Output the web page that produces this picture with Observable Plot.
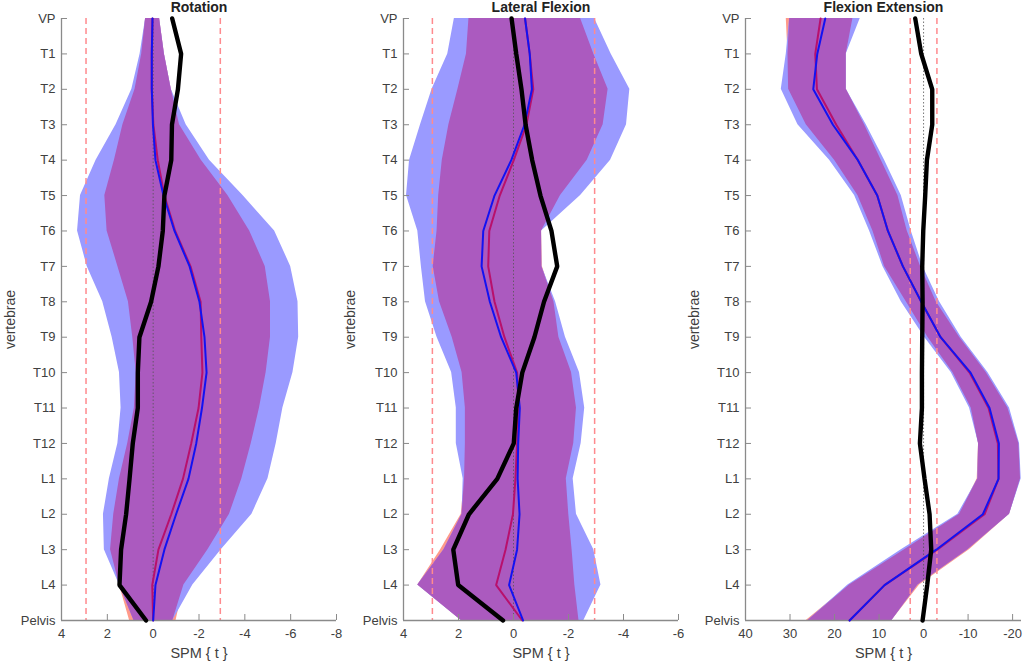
<!DOCTYPE html>
<html>
<head>
<meta charset="utf-8">
<script src="https://cdn.jsdelivr.net/npm/d3@7"></script>
<script src="https://cdn.jsdelivr.net/npm/@observablehq/plot@0.6"></script>
<style>
html,body{margin:0;padding:0;background:#fff;}
#charts{display:flex;width:1024px;height:662px;overflow:hidden;}
#charts svg{display:block;flex:none;overflow:visible;}
</style>
</head>
<body>
<div id="charts"></div>
<script>
const levels = ["VP","T1","T2","T3","T4","T5","T6","T7","T8","T9","T10","T11","T12","L1","L2","L3","L4","Pelvis"];

// Rotation
const rotBlueLeft  = [.33,.57,.93,1.62,2.49,3.17,3.30,2.88,2.20,1.79,1.47,1.40,1.54,1.91,2.17,2.13,1.47,.84];
const rotBlueRight = [-.28,-.49,-.79,-1.44,-2.46,-3.92,-5.30,-6.00,-6.32,-6.35,-6.10,-5.66,-5.37,-5.01,-4.31,-2.97,-1.73,-.86];
const rotRedLeft   = [.33,.50,.79,1.32,1.69,2.11,2.01,1.54,1.08,.89,.74,.82,1.11,1.47,1.72,1.86,1.47,1.03];
const rotRedRight  = [-.28,-.49,-.79,-1.15,-2.10,-3.26,-4.21,-4.89,-5.12,-5.12,-4.93,-4.64,-4.28,-3.87,-3.33,-2.39,-1.34,-1.00];
const rotBlueMean  = [.03,.06,.06,.01,-.10,-.45,-.93,-1.59,-2.02,-2.24,-2.33,-2.13,-1.88,-1.54,-1.00,-.49,-.10,0];
const rotRedMean   = [.03,.06,.06,-.01,-.20,-.49,-.96,-1.63,-2.07,-2.10,-2.15,-1.98,-1.66,-1.30,-.79,-.23,.04,0];
const rotBlack     = [-.83,-1.22,-1.08,-.82,-.79,-.49,-.42,-.23,.09,.60,.67,.67,.89,1.03,1.18,1.40,1.47,.31];

// Lateral flexion
const latBlueLeft  = [2.15,2.39,2.96,3.38,3.78,3.89,3.48,3.35,3.20,2.78,2.25,2.08,2.08,1.83,1.87,2.53,3.48,1.90];
const latBlueRight = [-2.95,-3.55,-4.23,-4.11,-3.53,-2.44,-1.02,-1.03,-1.53,-1.89,-2.40,-2.59,-2.46,-2.17,-2.29,-2.92,-3.18,-2.56];
const latRedLeft   = [1.62,1.71,2.02,2.35,2.59,2.72,2.78,2.92,2.69,2.23,1.87,1.75,1.75,1.78,1.90,2.65,3.48,1.90];
const latRedRight  = [-2.44,-2.92,-3.44,-3.26,-2.68,-1.71,-1.02,-1.05,-1.47,-1.65,-2.11,-2.29,-2.19,-1.92,-2.01,-2.13,-2.23,-2.38];
const latBlueMean  = [-.42,-.59,-.67,-.40,.08,.69,1.10,1.16,.86,.45,-.10,-.23,-.17,-.15,-.22,-.13,.16,-.35];
const latRedMean   = [-.42,-.59,-.72,-.47,-.01,.50,.88,.92,.69,.33,-.13,-.19,-.13,-.07,.02,.29,.63,-.32];
const latBlack     = [.07,-.10,-.29,-.44,-.68,-.98,-1.38,-1.59,-1.11,-.76,-.32,-.10,-.01,.59,1.62,2.19,2.01,.38];

// Flexion extension
const flxBlueLeft  = [30.09,30.84,31.96,28.22,21.11,15.49,12.13,9.13,5.01,-.22,-6.21,-10.33,-12.35,-12.2,-7.71,5.01,16.99,25.97];
const flxBlueRight = [14.22,17.37,17.37,12.87,8.76,5.01,2.77,.15,-3.59,-8.46,-14.45,-19.31,-21.56,-21.93,-19.31,-9.96,1.27,7.11];
const flxRedLeft   = [30.84,30.46,30.31,26.35,19.99,14.75,11.38,8.76,3.89,-.97,-6.59,-10.7,-12.35,-12.05,-8.08,4.27,16.62,26.35];
const flxRedRight  = [15.87,17.37,17.37,13.25,9.51,5.76,3.67,.67,-2.84,-8.08,-14.07,-18.94,-21.41,-21.78,-19.31,-10.3,.9,7.11];
const flxBlueMean  = [22.08,23.88,24.78,20.36,14.75,10.40,8.01,4.64,.52,-3.82,-10.55,-14.82,-16.92,-16.84,-13.32,-2.84,8.76,16.62];
const flxRedMean   = [23.13,24.33,23.95,19.61,14.75,10.40,8.01,4.64,.52,-3.82,-10.33,-14.60,-16.69,-16.84,-13.70,-3.07,8.76,16.62];
const flxBlack     = [1.87,.52,-1.95,-1.95,-.75,-.37,.07,.30,.22,.30,.37,.37,.82,-.22,-1.35,-1.72,-.82,.22];

const rotTicks = [4,2,0,-2,-4,-6,-8];
const latTicks = [4,2,0,-2,-4,-6];
const flxTicks = [40,30,20,10,0,-10,-20];

const panels = [
  {title:"Rotation", width:340, marginLeft:61, marginRight:4, domain:[4,-8], ticks:rotTicks, threshold:2.93,
   bl:rotBlueLeft, br:rotBlueRight, rl:rotRedLeft, rr:rotRedRight, bm:rotBlueMean, rm:rotRedMean, k:rotBlack},
  {title:"Lateral Flexion", width:344, marginLeft:63, marginRight:6, domain:[4,-6], ticks:latTicks, threshold:2.95,
   bl:latBlueLeft, br:latBlueRight, rl:latRedLeft, rr:latRedRight, bm:latBlueMean, rm:latRedMean, k:latBlack},
  {title:"Flexion Extension", width:340, marginLeft:61, marginRight:3, domain:[40,-22], ticks:flxTicks, threshold:3,
   bl:flxBlueLeft, br:flxBlueRight, rl:flxRedLeft, rr:flxRedRight, bm:flxBlueMean, rm:flxRedMean, k:flxBlack}
];

const BLUE_BAND="#9a9aff", RED_BAND="#ff9a8a", OVERLAP="#ab5abf", DASH="#ff8a8e",
      BLUE_LINE="#1212f2", RED_LINE="#b8106c", TEXT="#404040", AXIS="#8a8a8a";

for (const p of panels) {
  const rows = levels.map((level,i)=>({
    level, bl:p.bl[i], br:p.br[i], rl:p.rl[i], rr:p.rr[i], bm:p.bm[i], rm:p.rm[i], k:p.k[i],
    ol:Math.min(p.bl[i],p.rl[i]), or:Math.max(p.br[i],p.rr[i])
  }));
  const svg = Plot.plot({
    width:p.width, height:662,
    marginLeft:p.marginLeft, marginRight:p.marginRight, marginTop:18, marginBottom:42,
    style:{fontFamily:"'Liberation Sans',Arial,sans-serif", fontSize:"13px", color:TEXT, background:"transparent", overflow:"visible"},
    x:{domain:p.domain},
    y:{type:"point", domain:levels, padding:0, round:false},
    marks:[
      Plot.areaX(rows,{y:"level",x1:"rl",x2:"rr",fill:RED_BAND}),
      Plot.areaX(rows,{y:"level",x1:"bl",x2:"br",fill:BLUE_BAND}),
      Plot.areaX(rows,{y:"level",x1:"ol",x2:"or",fill:OVERLAP}),
      Plot.ruleX([0],{stroke:"#555",strokeWidth:0.8,strokeDasharray:"1.5,2"}),
      Plot.ruleX([p.threshold,-p.threshold],{stroke:DASH,strokeWidth:1.5,strokeDasharray:"6,4"}),
      Plot.ruleX([p.domain[0]],{stroke:AXIS,strokeWidth:1.3}),
      Plot.ruleY(["Pelvis"],{stroke:AXIS,strokeWidth:1.3}),
      Plot.axisX({ticks:p.ticks,tickFormat:d=>String(d),tickSize:-6,tickPadding:14,stroke:AXIS,color:TEXT,label:null}),
      Plot.axisY({tickSize:-6,tickPadding:12,stroke:AXIS,color:TEXT,label:null}),
      Plot.lineX(rows,{y:"level",x:"rm",stroke:RED_LINE,strokeWidth:2}),
      Plot.lineX(rows,{y:"level",x:"bm",stroke:BLUE_LINE,strokeWidth:2}),
      Plot.lineX(rows,{y:"level",x:"k",stroke:"#000",strokeWidth:4.4,strokeLinejoin:"miter"}),
      Plot.text([p.title],{frameAnchor:"top",lineAnchor:"middle",dy:-11,fontSize:14,fontWeight:"bold",fill:"#222"}),
      Plot.text(["SPM { t }"],{frameAnchor:"bottom",lineAnchor:"middle",dy:33,fontSize:14.5,fill:TEXT}),
      Plot.text(["vertebrae"],{frameAnchor:"left",textAnchor:"middle",lineAnchor:"middle",dx:10-p.marginLeft,rotate:-90,fontSize:14,fill:TEXT})
    ]
  });
  document.getElementById("charts").appendChild(svg);
}
</script>
</body>
</html>
